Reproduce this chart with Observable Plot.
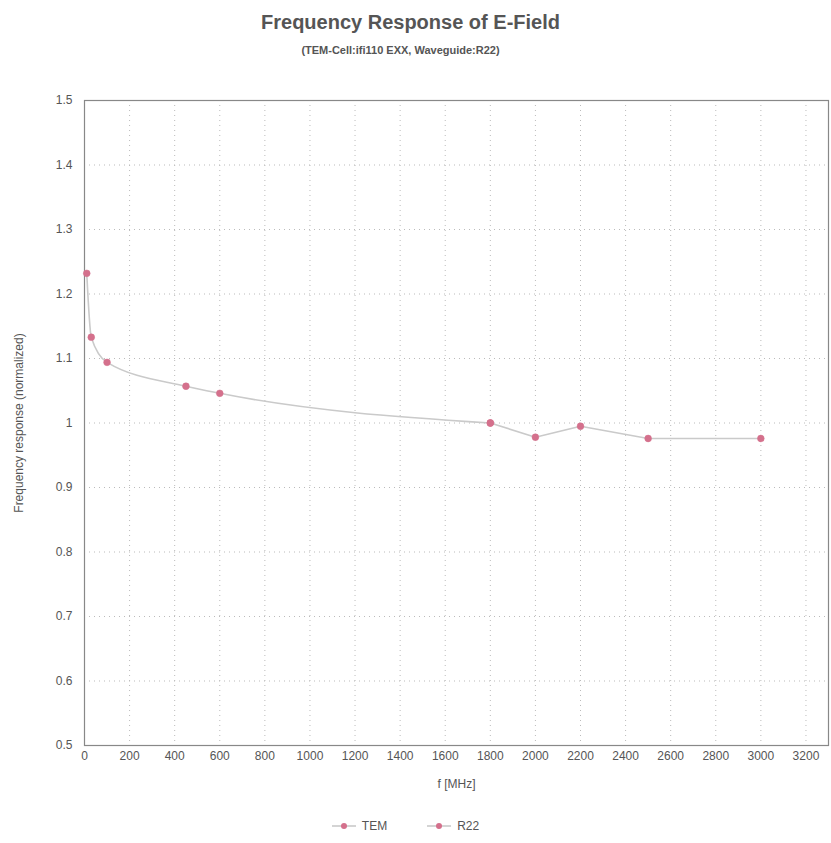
<!DOCTYPE html>
<html>
<head>
<meta charset="utf-8">
<script src="https://cdn.jsdelivr.net/npm/d3@7"></script>
<script src="https://cdn.jsdelivr.net/npm/@observablehq/plot@0.6"></script>
<style>
  body { margin: 0; background: #fff; font-family: "Liberation Sans", Arial, sans-serif; color: #555; }
  #wrap { width: 831px; }
  .title { height: 40px; line-height: 44px; text-align: center; font-size: 20px; font-weight: bold; color: #555; padding-right: 10px; }
  .subtitle { height: 40px; line-height: 20px; text-align: center; font-size: 11px; font-weight: bold; color: #555; padding-right: 30px; }
  .legend { display: flex; justify-content: center; gap: 40px; font-size: 12px; color: #555; padding-right: 20px; margin-top: 14px; }
  .legend span { display: inline-flex; align-items: center; gap: 6px; }
</style>
</head>
<body>
<div id="wrap">
  <div class="title">Frequency Response of E-Field</div>
  <div class="subtitle">(TEM-Cell:ifi110 EXX, Waveguide:R22)</div>
  <div id="chart"></div>
  <div class="legend" id="legend"></div>
</div>
<script>
const seriesNames = ["TEM", "R22"];
const temFreq = [10, 30, 100, 450, 600, 1800];
const temValue = [1.232, 1.133, 1.094, 1.057, 1.046, 1.0];
const r22Freq = [1800, 2000, 2200, 2500, 3000];
const r22Value = [1.0, 0.978, 0.995, 0.976, 0.976];
const xTicks = d3.range(0, 3201, 200);
const yTicks = [0.5, 0.6, 0.7, 0.8, 0.9, 1, 1.1, 1.2, 1.3, 1.4, 1.5];

const tem = temFreq.map((f, i) => ({series: "TEM", f, v: temValue[i]}));
const r22 = r22Freq.map((f, i) => ({series: "R22", f, v: r22Value[i]}));
const data = [...tem, ...r22];

const lineColor = "#cacaca";
const markColor = "#d4708c";

const chart = Plot.plot({
  width: 831,
  height: 725,
  marginLeft: 84,
  marginRight: 3,
  marginTop: 20,
  marginBottom: 60,
  style: { fontFamily: "'Liberation Sans', Arial, sans-serif", fontSize: "12px", color: "#555", background: "#fff" },
  x: { domain: [0, 3300] },
  y: { domain: [0.5, 1.5] },
  marks: [
    Plot.ruleX(xTicks.slice(1), { stroke: "#bbb", strokeDasharray: "1,4", strokeWidth: 1 }),
    Plot.ruleY(yTicks.slice(1, -1), { stroke: "#bbb", strokeDasharray: "1,4", strokeWidth: 1 }),
    Plot.frame({ stroke: "#888", strokeWidth: 1.2 }),
    Plot.axisX({ ticks: xTicks, tickSize: 0, tickPadding: 6, tickFormat: d => String(d), fontSize: 12,
      label: "f [MHz]", labelAnchor: "center", labelArrow: "none", labelOffset: 42 }),
    Plot.axisY({ ticks: yTicks, tickSize: 0, tickPadding: 12, tickFormat: d3.format("~g"), fontSize: 12,
      label: "Frequency response (normalized)", labelAnchor: "center", labelArrow: "none", labelOffset: 70 }),
    Plot.line(tem, { x: "f", y: "v", stroke: lineColor, strokeWidth: 1.6, curve: "monotone-x" }),
    Plot.line(r22, { x: "f", y: "v", stroke: lineColor, strokeWidth: 1.6, curve: "linear" }),
    Plot.dot(data, { x: "f", y: "v", r: 3.4, fill: markColor, stroke: markColor, strokeWidth: 0.5 })
  ]
});
document.getElementById("chart").appendChild(chart);

const legend = document.getElementById("legend");
seriesNames.forEach(name => {
  const s = document.createElement("span");
  s.innerHTML = `<svg width="24" height="10"><line x1="0" y1="5" x2="24" y2="5" stroke="${lineColor}" stroke-width="1.6"/><circle cx="12" cy="5" r="3" fill="${markColor}"/></svg>${name}`;
  legend.appendChild(s);
});
</script>
</body>
</html>
